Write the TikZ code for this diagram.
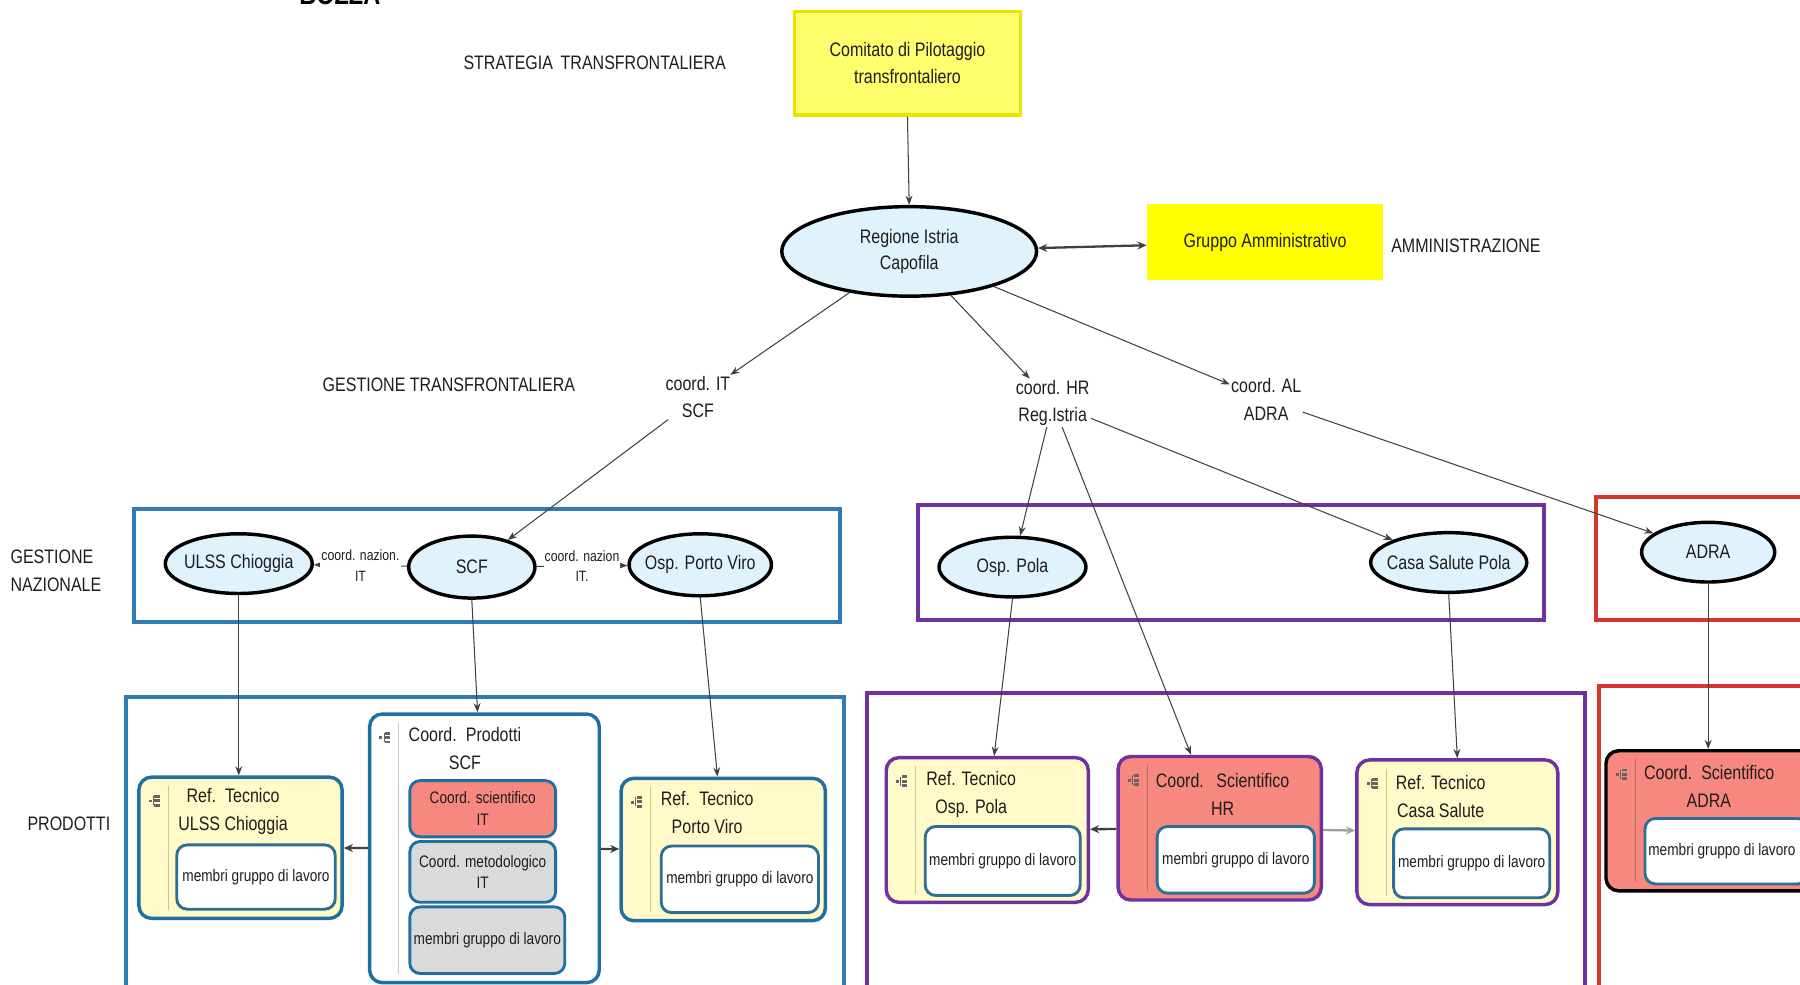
\documentclass[tikz,border=0pt]{standalone}
\usepackage{fontspec}
\setmainfont{Liberation Sans}[FakeStretch=0.82]
\usetikzlibrary{shapes.geometric,arrows.meta,calc}
\definecolor{txt}{HTML}{1E1E1E}
\definecolor{lblue}{HTML}{E0F2FC}
\definecolor{cyel}{HTML}{FFFAC8}
\definecolor{salm}{HTML}{F6887F}
\definecolor{gry}{HTML}{DADADA}
\definecolor{gblue}{HTML}{2E7BB6}
\definecolor{cblue}{HTML}{1F6FA3}
\definecolor{inblue}{HTML}{2B6E96}
\definecolor{purp}{HTML}{7030A0}
\definecolor{redb}{HTML}{D8352B}
\definecolor{arrc}{HTML}{404040}
\definecolor{ylw}{HTML}{FFFF00}
\definecolor{ylwl}{HTML}{FFFF6E}
\definecolor{ylwd}{HTML}{ECE400}
\definecolor{gutY}{HTML}{CFC68A}
\definecolor{gutS}{HTML}{B86A62}
\definecolor{gutW}{HTML}{C8C8C8}
\tikzset{
  lab/.style={text=txt, font=\fontsize{17}{24}\selectfont, align=center, inner sep=1pt},
  sml/.style={text=txt, font=\fontsize{14.5}{20}\selectfont, align=center, inner sep=0pt},
  tny/.style={text=txt, font=\fontsize{13}{18}\selectfont, align=center, inner sep=1pt},
  sz/.style 2 args={minimum width=#1pt, minimum height=#2pt},
  ell/.style={ellipse, draw=black, line width=3pt, fill=lblue, inner sep=0pt, text=txt,
    font=\fontsize{17}{23}\selectfont, align=center},
  grp/.style={rectangle, draw=#1, line width=3.5pt, fill=white, inner sep=0pt},
  card/.style={rectangle, rounded corners=11pt, draw=#1, line width=3pt, inner sep=0pt},
  inbox/.style={rectangle, rounded corners=9pt, draw=inblue, line width=2.5pt, fill=white,
    inner sep=0pt, text=txt, font=\fontsize{14.5}{20}\selectfont, align=center},
  arr/.style={draw=arrc, line width=0.9pt, -{Stealth[length=8pt,width=6pt]}},
  arrb/.style={draw=arrc, line width=2pt, -{Stealth[length=8pt,width=7pt]}},
  treeicon/.pic={
    \fill[arrc!80] (-5,-1) rectangle (-2.5,1.5);
    \fill[arrc!80] (0,-5) rectangle (4.5,-2.5);
    \fill[arrc!80] (0,-1.2) rectangle (4.5,1.3);
    \fill[arrc!80] (0,2.6) rectangle (4.5,5.1);
    \draw[arrc!80, line width=0.6pt] (-1,-4) -- (-1,4);
  }
}
\newcommand\cardgut[2]{%
  \draw[#2, line width=0.8pt] ($(#1.north west)+(27,9)$) -- ($(#1.south west)+(27,-9)$);
  \pic at ($(#1.north west)+(15,22)$) {treeicon};
}
\begin{document}
\begin{tikzpicture}[x=1pt,y=-1pt]
\useasboundingbox (0,0) rectangle (1568,858);
\fill[white] (0,0) rectangle (1568,858);

% partial title at top
\node[text=black, font=\bfseries\fontsize{25}{25}\selectfont, anchor=base, inner sep=0pt] (bozza) at (296,3.5) {BOZZA};

% side labels
\node[lab] (strat) at (518,55) {STRATEGIA\, TRANSFRONTALIERA};
\node[lab] (gestt) at (391,335) {GESTIONE TRANSFRONTALIERA};
\node[lab] (amm) at (1277,214) {AMMINISTRAZIONE};
\node[lab, align=left, anchor=west] (gestnaz) at (8,497) {GESTIONE\\NAZIONALE};
\node[lab] (prod) at (60,718) {PRODOTTI};

% top boxes
\node[rectangle, draw=ylwd, line width=3pt, fill=ylwl, sz={197}{90}, lab] (comitato) at (790.5,55) {Comitato di Pilotaggio\\transfrontaliero};
\node[rectangle, fill=ylw, sz={206}{66}, lab] (gruppo) at (1102,211) {Gruppo Amministrativo};
\node[ell, sz={222}{78}] (regione) at (792,219) {Regione Istria\\Capofila};

% coordination labels
\node[lab] (coordit) at (608,346) {coord. IT\\SCF};
\node[lab] (coordhr) at (917,351) {coord. HR\\Reg.Istria};
\node[lab] (coordal) at (1103,348) {coord. AL\\ADRA};

% group boxes
\node[grp=gblue, sz={615}{99}] (gbu) at (424.5,492.5) {};
\node[grp=gblue, sz={625}{263}] (gbl) at (422.5,738.5) {};
\node[grp=purp, sz={545}{100}] (gpu) at (1072.5,490) {};
\node[grp=purp, sz={626}{266}] (gpl) at (1068,737) {};
\node[grp=redb, sz={200}{107}] (gru) at (1490,486.5) {};
\node[grp=redb, sz={197}{272}] (grl) at (1491.5,734) {};

% ellipses
\node[ell, sz={128}{52}] (ulss) at (208,491) {\makebox[0pt]{ULSS Chioggia}};
\node[ell, sz={110}{54}] (scf) at (411,494) {\makebox[0pt]{SCF}};
\node[ell, sz={124}{54}] (portoviro) at (610,492) {\makebox[0pt]{Osp. Porto Viro}};
\node[ell, sz={128}{52}] (osppola) at (882,494) {\makebox[0pt]{Osp. Pola}};
\node[ell, sz={136}{52}] (casasalute) at (1262,490) {\makebox[0pt]{Casa Salute Pola}};
\node[ell, sz={116}{52}] (adra) at (1488,481) {\makebox[0pt]{ADRA}};

% cards (Italy)
\node[card=cblue, fill=cyel, sz={177}{123}] (ulsscard) at (209.5,738.5) {};
\cardgut{ulsscard}{gutY}
\node[lab] (ulsstxt) at (203,707) {Ref.\, Tecnico\\ULSS Chioggia};
\node[inbox, sz={138}{56}] (ulssmem) at (223,764) {membri gruppo di lavoro};

\node[card=cblue, fill=white, sz={200}{234}] (coordprod) at (422,739) {};
\cardgut{coordprod}{gutW}
\node[lab] (prodtxt) at (405,652) {Coord.\, Prodotti\\SCF};
\node[inbox, draw=cblue, fill=salm, sz={127}{49}, font=\fontsize{14.5}{19}\selectfont] (scisub) at (420.5,704.5) {Coord. scientifico\\IT};
\node[inbox, draw=cblue, fill=gry, sz={127}{53}, font=\fontsize{14.5}{19}\selectfont] (metsub) at (420.5,759.5) {Coord. metodologico\\IT};
\node[inbox, draw=cblue, fill=gry, sz={135}{58}] (memsub) at (424.5,819) {membri gruppo di lavoro};

\node[card=cblue, fill=cyel, sz={178}{124}] (ptcard) at (630,740) {};
\cardgut{ptcard}{gutY}
\node[lab] (pttxt) at (616,708) {Ref.\, Tecnico\\Porto Viro};
\node[inbox, sz={137}{58}] (ptmem) at (644.5,766) {membri gruppo di lavoro};

% cards (Croatia)
\node[card=purp, fill=cyel, sz={176}{126}] (polacard) at (860,723) {};
\cardgut{polacard}{gutY}
\node[lab] (polatxt) at (846,692) {Ref. Tecnico\\Osp. Pola};
\node[inbox, sz={135}{60}] (polamem) at (873.5,750) {membri gruppo di lavoro};

\node[card=purp, fill=salm, sz={177}{125}] (hrcard) at (1062.5,721.5) {};
\cardgut{hrcard}{gutS}
\node[lab] (hrtxt) at (1065,692) {Coord.\,\, Scientifico\\HR};
\node[inbox, sz={137}{58}] (hrmem) at (1076.5,749) {membri gruppo di lavoro};

\node[card=purp, fill=cyel, sz={175}{126}] (casacard) at (1269.5,725) {};
\cardgut{casacard}{gutY}
\node[lab] (casatxt) at (1255,694) {Ref. Tecnico\\Casa Salute};
\node[inbox, sz={136}{60}] (casamem) at (1282,752) {membri gruppo di lavoro};

% card (Albania)
\node[card=black, fill=salm, sz={186}{122}] (adracard) at (1492,715) {};
\cardgut{adracard}{gutS}
\node[lab, align=left, anchor=west] (adratxt) at (1431,685) {Coord.\, Scientifico\\\hspace*{37pt}ADRA};
\node[inbox, sz={142}{57}] (adramem) at (1504,741.5) {\hspace*{-8pt}membri gruppo di lavoro};

% connectors: top
\draw[arr] (comitato.south) -- (regione.north);
\draw[draw=arrc, line width=2pt, {Stealth[length=8pt,width=7pt]}-{Stealth[length=8pt,width=7pt]}] (regione) -- (gruppo);
\draw[arr] (regione) -- (coordit);
\draw[arr] (regione) -- (coordhr);
\draw[arr] (regione) -- (coordal);

% connectors: to national level
\draw[arr] (coordit) -- (scf);
\draw[arr] (coordhr) -- (osppola);
\draw[arr] (coordhr) -- ($(hrcard.north)+(-25,0)$);
\draw[arr] (coordhr) -- (casasalute);
\draw[arr] (coordal) -- (adra);

% national coordination
\draw[arr] (scf) -- node[tny, fill=white] (natl) {coord. nazion.\\IT} (ulss);
\draw[arr] (scf) -- node[tny, fill=white] (natr) {coord. nazion\\IT.} (portoviro);

% to products
\draw[arr] (ulss) -- (ulss |- ulsscard.north);
\draw[arr] (scf.south) -- ($(coordprod.north)+(-6,0)$);
\draw[arr] (portoviro.south) -- ($(ptcard.north)+(-5,0)$);
\draw[arr] (osppola.south) -- ($(polacard.north)+(6,0)$);
\draw[arr] (casasalute.south) -- (casacard.north);
\draw[arr] (adra) -- (adra |- adracard.north);

% between cards
\draw[arrb] (coordprod) -- (ulsscard);
\draw[arrb] (coordprod) -- (ptcard);
\draw[arrb] (hrcard) -- (polacard);
\draw[draw=arrc!50, line width=2pt, -{Stealth[length=8pt,width=7pt]}] (hrcard) -- (casacard);
\end{tikzpicture}
\end{document}
